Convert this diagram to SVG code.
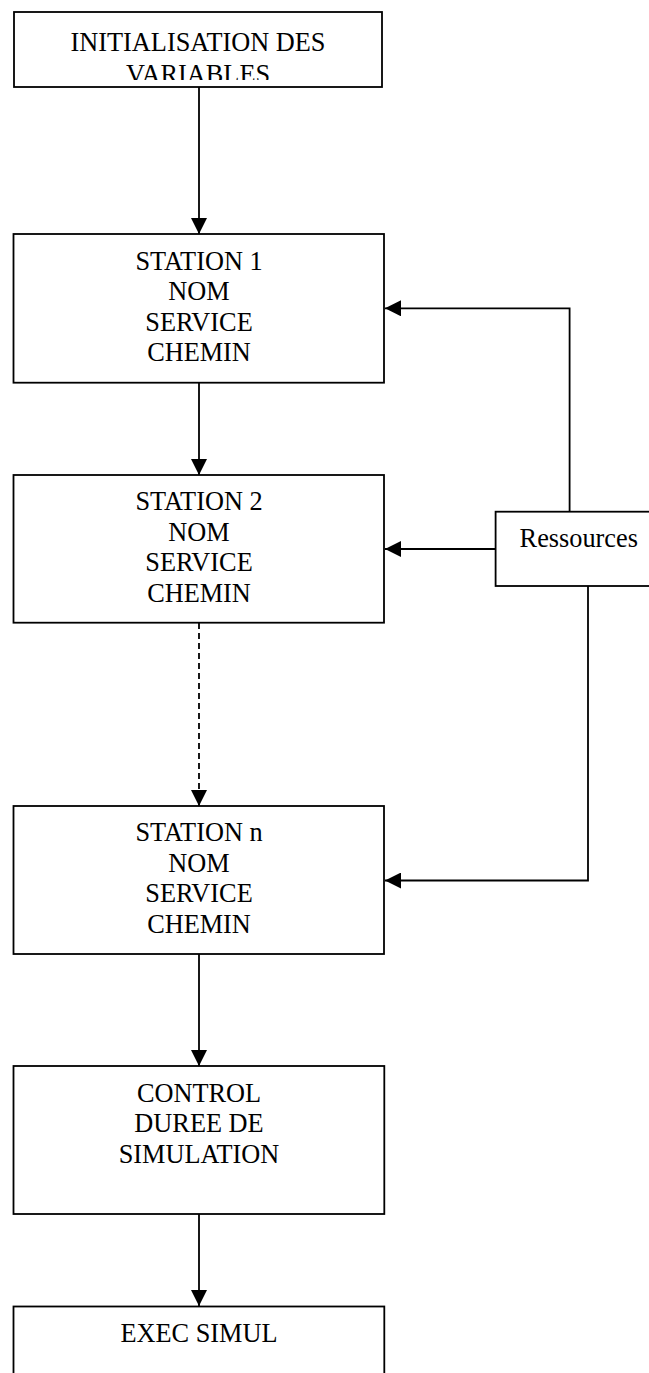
<svg xmlns="http://www.w3.org/2000/svg" width="649" height="1373" viewBox="0 0 649 1373">
  <style>
    .box { fill: #fff; stroke: #000; stroke-width: 1.8; }
    .lbl { font-family: "Liberation Serif", "Times New Roman", serif; font-size: 26.3px; fill: #000; text-anchor: middle; }
    .con { fill: none; stroke: #000; stroke-width: 1.8; }
    .dash { stroke-dasharray: 6 4; }
  </style>
  <defs>
    <marker id="arr" markerUnits="userSpaceOnUse" markerWidth="16" markerHeight="16" viewBox="0 0 15 15" refX="15" refY="7.5" orient="auto">
      <path d="M0,0 L15,7.5 L0,15 Z" fill="#000"/>
    </marker>
    <clipPath id="clipInit">
      <rect x="14" y="12" width="368" height="68"/>
    </clipPath>
  </defs>

  <g id="connectors">
    <path class="con" d="M199,87 V234" marker-end="url(#arr)"/>
    <path class="con" d="M199,383 V475" marker-end="url(#arr)"/>
    <path class="con dash" d="M199,623 V806" marker-end="url(#arr)"/>
    <path class="con" d="M199,954 V1066" marker-end="url(#arr)"/>
    <path class="con" d="M199,1214 V1306" marker-end="url(#arr)"/>
    <path class="con" d="M569.6,511.7 V308.3 H385" marker-end="url(#arr)"/>
    <path class="con" d="M495.6,549 H385" marker-end="url(#arr)"/>
    <path class="con" d="M588,586 V880.5 H385" marker-end="url(#arr)"/>
  </g>

  <g id="node-init">
    <rect class="box" x="14" y="12" width="368" height="75"/>
    <g clip-path="url(#clipInit)">
      <text class="lbl" x="198" y="51">INITIALISATION DES</text>
      <text class="lbl" x="198" y="83">VARIABLES</text>
    </g>
  </g>

  <g id="node-station1">
    <rect class="box" x="13.5" y="234" width="370.5" height="148.7"/>
    <text class="lbl" x="199" y="269.5">STATION 1</text>
    <text class="lbl" x="199" y="300">NOM</text>
    <text class="lbl" x="199" y="330.5">SERVICE</text>
    <text class="lbl" x="199" y="361">CHEMIN</text>
  </g>

  <g id="node-station2">
    <rect class="box" x="13.5" y="475" width="370.5" height="147.7"/>
    <text class="lbl" x="199" y="510">STATION 2</text>
    <text class="lbl" x="199" y="540.5">NOM</text>
    <text class="lbl" x="199" y="571">SERVICE</text>
    <text class="lbl" x="199" y="601.5">CHEMIN</text>
  </g>

  <g id="node-stationn">
    <rect class="box" x="13.5" y="806" width="370.5" height="148"/>
    <text class="lbl" x="199" y="841">STATION n</text>
    <text class="lbl" x="199" y="872">NOM</text>
    <text class="lbl" x="199" y="902">SERVICE</text>
    <text class="lbl" x="199" y="932.5">CHEMIN</text>
  </g>

  <g id="node-ressources">
    <rect class="box" x="495.6" y="511.7" width="200" height="74.3"/>
    <text class="lbl" x="519.6" y="546.7" style="text-anchor:start">Ressources</text>
  </g>

  <g id="node-control">
    <rect class="box" x="13.5" y="1066" width="370.8" height="148"/>
    <text class="lbl" x="199" y="1101.7">CONTROL</text>
    <text class="lbl" x="199" y="1132">DUREE DE</text>
    <text class="lbl" x="199" y="1162.5">SIMULATION</text>
  </g>

  <g id="node-exec">
    <rect class="box" x="13.5" y="1306.5" width="370.8" height="120"/>
    <text class="lbl" x="199" y="1341.7">EXEC SIMUL</text>
  </g>
</svg>
